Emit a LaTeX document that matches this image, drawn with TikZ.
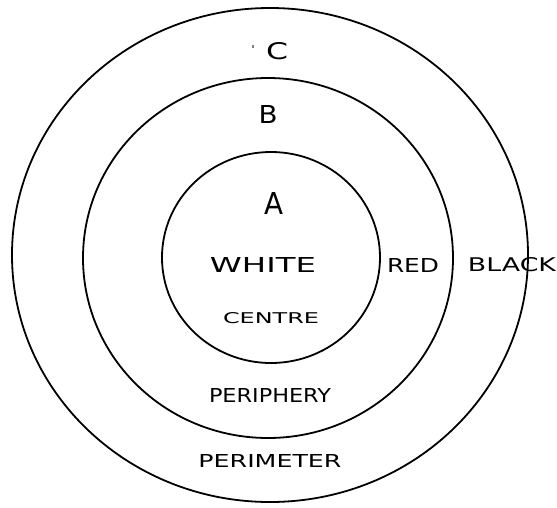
\documentclass[tikz,border=0pt]{standalone}
\usepackage{graphicx}
\usepackage{fontspec}
\setmainfont{DejaVu Sans}
\usetikzlibrary{shapes.geometric}
\tikzset{
  ring/.style={ellipse, draw=black, line width=1.8pt, inner sep=0pt, fill=none},
  lbl/.style={inner sep=0pt, outer sep=0pt, text=black},
}
\newcommand{\fitlabel}[3]{\resizebox{#1pt}{#2pt}{#3}}
\begin{document}
\begin{tikzpicture}[x=1pt,y=-1pt]
\useasboundingbox (0,0) rectangle (557,507);
\fill[white] (0,0) rectangle (557,507);
% rings
\node[ring, minimum width=516pt, minimum height=494pt] (outer) at (270,255) {};
\node[ring, minimum width=370pt, minimum height=360pt] (middle) at (268,258) {};
\node[ring, minimum width=218pt, minimum height=211pt] (inner) at (271,257.5) {};
% zone letters
\node[lbl] (dotc) at (253,47) {\fitlabel{3}{3}{.}};
\node[lbl] (c) at (277,51) {\fitlabel{22}{17}{C}};
\node[lbl] (b) at (268,114) {\fitlabel{19}{18}{B}};
\node[lbl] (a) at (274,203) {\fitlabel{19}{22}{A}};
% colours
\node[lbl] (white) at (263,265) {\fitlabel{106}{15}{WHITE}};
\node[lbl] (red) at (413,265) {\fitlabel{52}{14}{RED}};
\node[lbl] (black) at (512,265) {\fitlabel{88}{14}{BLACK}};
% zone names
\node[lbl] (centre) at (271,318) {\fitlabel{96}{11}{CENTRE}};
\node[lbl] (periphery) at (270,395) {\fitlabel{122}{14}{PERIPHERY}};
\node[lbl] (perimeter) at (270,461) {\fitlabel{143}{13}{PERIMETER}};
\end{tikzpicture}
\end{document}
